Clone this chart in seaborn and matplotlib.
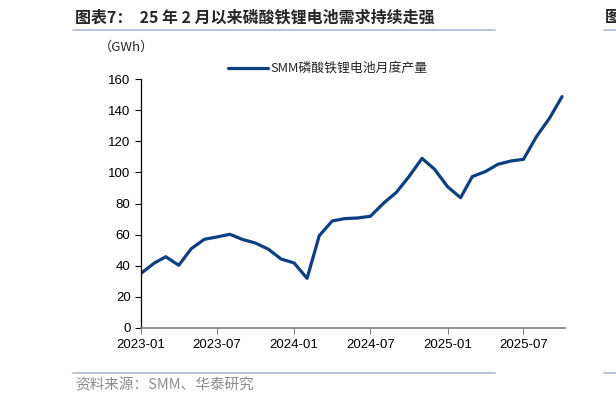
import matplotlib
matplotlib.use('Agg')

import pandas as pd
import numpy as np
import matplotlib.pyplot as plt
import matplotlib.dates as mdates
from matplotlib.lines import Line2D
import seaborn as sns

# monthly LFP battery output (GWh), 2023-01 .. 2025-10
months = pd.date_range('2023-01-01', periods=34, freq='MS')
output_gwh = [35.1, 41.6, 45.8, 40.3, 51.0, 57.0, 58.5, 60.2, 56.8, 54.6,
              50.6, 44.3, 41.8, 31.9, 59.3, 68.8, 70.3, 70.7, 71.8, 80.1,
              87.2, 97.3, 109.0, 102.0, 90.8, 83.7, 97.3, 100.5, 105.2,
              107.3, 108.4, 123.0, 134.8, 148.7]
series_name = 'SMM磷酸铁锂电池月度产量'
tick_months = ['2023-01', '2023-07', '2024-01', '2024-07', '2025-01', '2025-07']

df = pd.DataFrame({'month': months, 'value': output_gwh})

sns.set_style('ticks')
plt.rcParams['font.family'] = ['Liberation Sans', 'Noto Sans CJK SC', 'DejaVu Sans']
cjk = ['Noto Sans CJK SC', 'DejaVu Sans']

fig = plt.figure(figsize=(6.16, 4.03), dpi=100)
ax = fig.add_axes([141 / 616, 1 - 328 / 403, 424 / 616, 249 / 403])

sns.lineplot(data=df, x='month', y='value', ax=ax, color='#0d3f80',
             linewidth=2.3, label=series_name, legend=False)

ax.set_xlim(pd.Timestamp('2023-01-01'), pd.Timestamp('2025-10-08'))
ax.set_ylim(0, 160)
ax.set_yticks(np.arange(0, 161, 20))
ax.set_xticks(pd.to_datetime(tick_months))
ax.xaxis.set_major_formatter(mdates.DateFormatter('%Y-%m'))
ax.set_xlabel('')
ax.set_ylabel('')
ax.tick_params(axis='both', labelsize=9.5, length=4, width=0.8, colors='black')
ax.tick_params(axis='x', pad=4, color='#808080')
sns.despine(ax=ax)
ax.spines['left'].set_color('black')
ax.spines['left'].set_linewidth(0.9)
ax.spines['bottom'].set_color('#808080')
ax.spines['bottom'].set_linewidth(1.2)

# unit label
fig.text(127 / 616, 1 - 47 / 403, '（GWh）', ha='center', va='center',
         fontsize=9.5, family=cjk)

# legend
fig.add_artist(Line2D([228 / 616, 268 / 616], [1 - 68 / 403, 1 - 68 / 403],
                      color='#0d3f80', linewidth=2.3))
fig.text(270 / 616, 1 - 68 / 403, series_name, ha='left', va='center',
         fontsize=9.3, family=cjk)

# header
fig.text(75 / 616, 1 - 17 / 403, '图表7：  25 年 2 月以来磷酸铁锂电池需求持续走强',
         ha='left', va='center', fontsize=11.5, fontweight='bold', family=cjk)
fig.text(605 / 616, 1 - 17 / 403, '图', ha='left', va='center',
         fontsize=11.5, fontweight='bold', family=cjk)
for x0, x1, y in [(73, 495, 30), (604, 616, 30), (73, 495, 373), (604, 616, 373)]:
    fig.add_artist(Line2D([x0 / 616, x1 / 616], [1 - y / 403, 1 - y / 403],
                          color='#a9bcd0', linewidth=1.2))

# source
fig.text(75 / 616, 1 - 385 / 403, '资料来源：SMM、华泰研究', ha='left', va='center',
         fontsize=10.5, color='#8c8c8c', family=cjk)

fig.savefig('out.png', dpi=100)
